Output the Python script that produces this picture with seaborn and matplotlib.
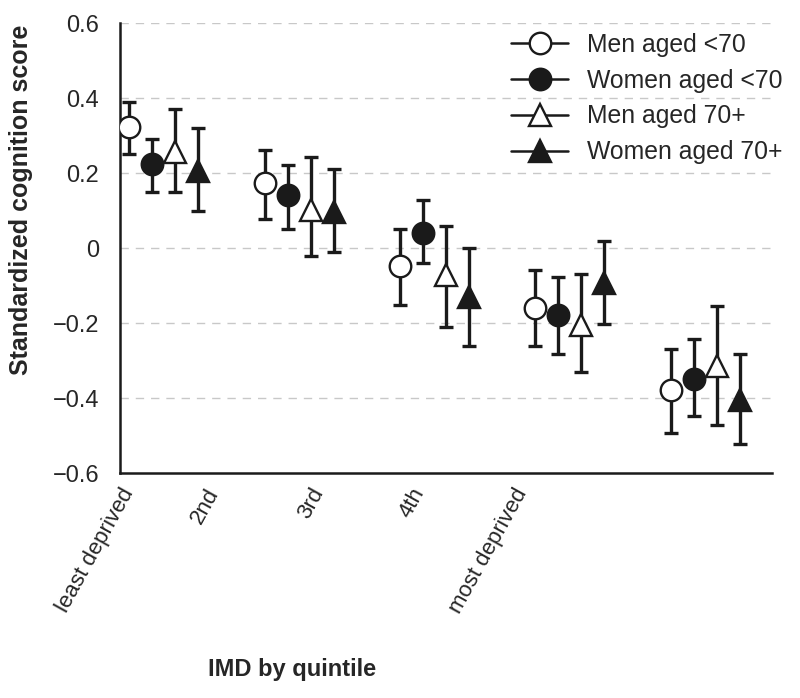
import numpy as np
import seaborn as sns
import matplotlib.pyplot as plt
from matplotlib.lines import Line2D

quintiles = ["least deprived", "2nd", "3rd", "4th", "most deprived"]
series = ["Men aged <70", "Women aged <70", "Men aged 70+", "Women aged 70+"]

men_u70 = [0.323, 0.174, -0.048, -0.159, -0.377]
men_u70_lo = [0.252, 0.079, -0.152, -0.261, -0.492]
men_u70_hi = [0.390, 0.261, 0.050, -0.059, -0.270]

women_u70 = [0.224, 0.141, 0.041, -0.179, -0.348]
women_u70_lo = [0.149, 0.050, -0.039, -0.281, -0.448]
women_u70_hi = [0.291, 0.221, 0.128, -0.078, -0.242]

men_70 = [0.257, 0.101, -0.072, -0.205, -0.315]
men_70_lo = [0.149, -0.020, -0.211, -0.330, -0.472]
men_70_hi = [0.371, 0.242, 0.059, -0.068, -0.153]

women_70 = [0.206, 0.097, -0.130, -0.094, -0.404]
women_70_lo = [0.099, -0.010, -0.261, -0.201, -0.521]
women_70_hi = [0.319, 0.212, 0.000, 0.019, -0.281]

sns.set_style("white")
plt.rcParams['font.family'] = ['Liberation Sans', 'DejaVu Sans']

ink = "#1a1a1a"
fig = plt.figure(figsize=(8, 6.98), dpi=100)
ax = fig.add_axes([0.15, 0.322, 0.815, 0.645])

# marker, face colour, size
styles = [("o", "white", 15.5), ("o", ink, 15.5), ("^", "white", 16.5), ("^", ink, 16.5)]
values = [(men_u70, men_u70_lo, men_u70_hi), (women_u70, women_u70_lo, women_u70_hi),
          (men_70, men_70_lo, men_70_hi), (women_70, women_70_lo, women_70_hi)]
offsets = [0, 0.17, 0.34, 0.51]

base = np.arange(len(quintiles))
for (y, lo, hi), (m, fc, ms), off in zip(values, styles, offsets):
    y = np.array(y)
    err = [y - np.array(lo), np.array(hi) - y]
    x = base + off
    ax.errorbar(x, y, yerr=err, fmt="none", ecolor=ink, elinewidth=2.4,
                capsize=5.2, capthick=2.4, zorder=2)
    ax.plot(x, y, linestyle="none", marker=m, markersize=ms, markerfacecolor=fc,
            markeredgecolor=ink, markeredgewidth=1.7, zorder=3)

ax.set_xlim(-0.06, 4.75)
ax.set_ylim(-0.6, 0.6)
ax.set_yticks([-0.6, -0.4, -0.2, 0, 0.2, 0.4, 0.6])
ax.set_yticklabels(["\u22120.6", "\u22120.4", "\u22120.2", "0", "0.2", "0.4", "0.6"], fontsize=17)
for gy in [-0.4, -0.2, 0, 0.2, 0.4, 0.6]:
    ax.axhline(gy, color="#c8c8c8", linestyle=(0, (6, 5)), linewidth=1, zorder=0)

ax.set_xticks([-0.07, 0.56, 1.33, 2.08, 2.84])
ax.set_xticklabels(quintiles, rotation=61, ha="right", va="top",
                   rotation_mode="anchor", fontsize=16)
ax.tick_params(axis="x", length=0, pad=8)
ax.tick_params(axis="y", length=3, width=1, color=ink, direction="out", pad=12)

for s in ["top", "right"]:
    ax.spines[s].set_visible(False)
for s in ["left", "bottom"]:
    ax.spines[s].set_color(ink)
    ax.spines[s].set_linewidth(1.8)

ax.set_ylabel("Standardized cognition score", fontsize=18, fontweight="bold")
ax.yaxis.set_label_coords(-0.133, 0.607)
ax.set_xlabel("IMD by quintile", fontsize=17, fontweight="bold",
              family=["Liberation Sans Narrow", "Liberation Sans", "DejaVu Sans"])
ax.xaxis.set_label_coords(0.264, -0.411)

handles = [Line2D([], [], color=ink, linewidth=1.8, marker=m, markersize=ms,
                  markerfacecolor=fc, markeredgecolor=ink, markeredgewidth=1.7)
           for m, fc, ms in styles]
ax.legend(handles, series, loc="upper right", bbox_to_anchor=(1.05, 1.028), frameon=False,
          fontsize=17.8, handlelength=2.3, labelspacing=0.48, handletextpad=0.75)

fig.savefig("out.png", dpi=100)
